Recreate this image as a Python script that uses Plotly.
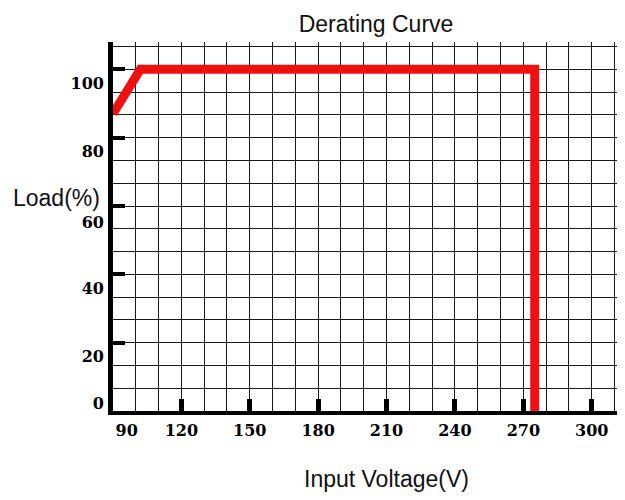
import plotly.graph_objects as go

# Data
voltage = [90, 102, 275, 275]
load = [87, 100, 100, 0]

x_tick_vals = [120, 150, 180, 210, 240, 270, 300]
x_label_vals = [96, 120, 150, 180, 210, 240, 270, 300]
x_label_text = ["90", "120", "150", "180", "210", "240", "270", "300"]

y_tick_vals = [20, 40, 60, 80, 100]
y_label_vals = [2.3, 16, 36, 55.2, 76, 96]
y_label_text = ["0", "20", "40", "60", "80", "100"]

X_RANGE = [90, 314.6]
Y_RANGE = [0, 108]

# figure is sized for the page's 8px body margin
W, H = 617, 492
L, R, T, B = 105, 0, 34, 89
PW, PH = W - L - R, H - T - B

tick_font = dict(family="DejaVu Serif", size=16, color="black", weight="bold")
label_font = dict(family="Liberation Sans, Arial", size=23, color="#111")

fig = go.Figure()

fig.add_trace(go.Scatter(
    x=voltage, y=load, mode="lines",
    line=dict(color="#f01010", width=9),
    hoverinfo="skip", showlegend=False,
))
# helper empty traces so overlay axes render
fig.add_trace(go.Scatter(x=[None], y=[None], xaxis="x2", yaxis="y2", showlegend=False, hoverinfo="skip"))
fig.add_trace(go.Scatter(x=[None], y=[None], xaxis="x3", yaxis="y3", showlegend=False, hoverinfo="skip"))

grid_color = "#1a1a1a"

fig.update_layout(
    width=W, height=H,
    margin=dict(l=L, r=R, t=T, b=B),
    paper_bgcolor="white", plot_bgcolor="white",
    showlegend=False,
    title=dict(text="Derating Curve", x=368/W, xref="container", xanchor="center",
               y=1 - 16/H, yref="container", yanchor="middle",
               font=dict(family="Liberation Sans, Arial", size=23, color="#111")),
    xaxis=dict(range=X_RANGE, tick0=90, dtick=10, showgrid=True, gridcolor=grid_color, gridwidth=1.3,
               showticklabels=False, ticks="", zeroline=False,
               showline=True, linecolor="black", linewidth=4),
    yaxis=dict(range=Y_RANGE, tick0=0, dtick=20/3, showgrid=True, gridcolor=grid_color, gridwidth=1.3,
               showticklabels=False, ticks="", zeroline=False,
               showline=True, linecolor="black", linewidth=5),
    xaxis2=dict(range=X_RANGE, overlaying="x", anchor="y2", tickmode="array", tickvals=x_tick_vals,
                ticks="inside", ticklen=12, tickwidth=5, tickcolor="black",
                showticklabels=False, showgrid=False, zeroline=False, showline=False),
    yaxis2=dict(range=Y_RANGE, overlaying="y", anchor="x2", tickmode="array", tickvals=y_tick_vals,
                ticks="inside", ticklen=12, tickwidth=4, tickcolor="black",
                showticklabels=False, showgrid=False, zeroline=False, showline=False),
    xaxis3=dict(range=X_RANGE, overlaying="x", anchor="y3", tickmode="array", tickvals=x_label_vals,
                ticktext=x_label_text, ticks="", tickfont=tick_font, ticklabelstandoff=8,
                showgrid=False, zeroline=False, showline=False),
    yaxis3=dict(range=Y_RANGE, overlaying="y", anchor="x3", tickmode="array", tickvals=y_label_vals,
                ticktext=y_label_text, ticks="", tickfont=tick_font, ticklabelstandoff=8,
                showgrid=False, zeroline=False, showline=False),
)

fig.add_annotation(text="Load(%)", xref="paper", yref="paper",
                   x=(94 - L) / PW, y=(H - B - 190) / PH, xanchor="right", yanchor="middle",
                   showarrow=False, font=label_font)
fig.add_annotation(text="Input Voltage(V)", xref="paper", yref="paper",
                   x=(378 - L) / PW, y=(H - B - 471) / PH, xanchor="center", yanchor="middle",
                   showarrow=False, font=label_font)

fig.write_html("out.html")
